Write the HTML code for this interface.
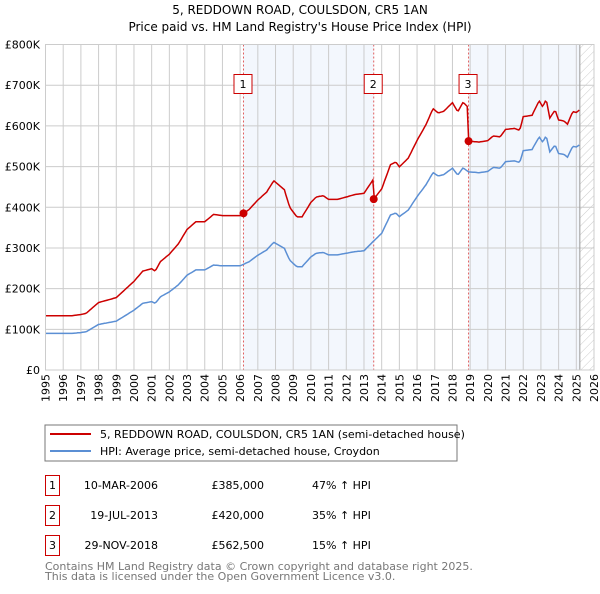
<!DOCTYPE html>
<html><head><meta charset="utf-8"><style>
body{margin:0;background:#fff;font-family:"DejaVu Sans","Liberation Sans",sans-serif;}
svg text{font-family:"DejaVu Sans","Liberation Sans",sans-serif;}
</style></head><body>
<svg id="c" width="600" height="590" xmlns="http://www.w3.org/2000/svg">
<defs><pattern id="hatch" width="6" height="6" patternUnits="userSpaceOnUse" patternTransform="rotate(45)"><line x1="0" y1="0" x2="0" y2="6" stroke="#ccc" stroke-width="1"/></pattern></defs>
<text x="300" y="14" text-anchor="middle" font-size="12">5, REDDOWN ROAD, COULSDON, CR5 1AN</text>
<text x="300" y="31" text-anchor="middle" font-size="12">Price paid vs. HM Land Registry's House Price Index (HPI)</text>
<g id="plot"></g>
<rect x="45" y="425" width="412" height="36" fill="#fff" stroke="#777"/>
<line x1="50" y1="434" x2="91" y2="434" stroke="#cc0000" stroke-width="2"/>
<text x="100" y="438" font-size="11">5, REDDOWN ROAD, COULSDON, CR5 1AN (semi-detached house)</text>
<line x1="50" y1="451" x2="91" y2="451" stroke="#5b8fd4" stroke-width="2"/>
<text x="100" y="455" font-size="11">HPI: Average price, semi-detached house, Croydon</text>
<g id="table" font-size="11"></g>
<text x="45" y="570" font-size="11" fill="#777">Contains HM Land Registry data © Crown copyright and database right 2025.</text>
<text x="45" y="580" font-size="11" fill="#777">This data is licensed under the Open Government Licence v3.0.</text>
</svg>
<script>
const hpiYears=[1995,1996.5,1997,1997.3,1998,1999,2000,2000.5,2001,2001.2,2001.5,2002,2002.5,2003,2003.5,2004,2004.5,2005,2006,2006.5,2007,2007.5,2007.9,2008.5,2008.8,2009.2,2009.5,2010,2010.3,2010.7,2011,2011.5,2012,2012.5,2013,2013.5,2014,2014.5,2014.8,2015,2015.5,2016,2016.5,2016.9,2017.2,2017.5,2018,2018.3,2018.6,2018.9,2019.5,2020,2020.3,2020.7,2021,2021.5,2021.8,2022,2022.5,2022.9,2023.1,2023.3,2023.5,2023.8,2024,2024.3,2024.5,2024.8,2025,2025.2];
const hpiValues=[90,90,92,94,112,120,147,164,168,164,180,192,209,233,246,246,258,256,256,266,282,295,314,299,270,254,254,278,287,289,283,283,287,291,293,315,336,381,386,377,393,426,455,485,477,480,496,479,497,487,485,488,498,496,512,514,510,539,542,573,560,576,536,553,532,530,523,550,548,554];
const saleLabels=["1","2","3"];
const saleYears=[2006.19,2013.55,2018.91];
const salePrices=[385,420,562.5];
const saleDates=["10-MAR-2006","19-JUL-2013","29-NOV-2018"];
const salePriceText=["£385,000","£420,000","£562,500"];
const saleHpiText=["47% ↑ HPI","35% ↑ HPI","15% ↑ HPI"];
const yTicks=[0,100,200,300,400,500,600,700,800];
const yTickLabels=["£0","£100K","£200K","£300K","£400K","£500K","£600K","£700K","£800K"];
const xTicks=[1995,1996,1997,1998,1999,2000,2001,2002,2003,2004,2005,2006,2007,2008,2009,2010,2011,2012,2013,2014,2015,2016,2017,2018,2019,2020,2021,2022,2023,2024,2025,2026];

const X0=45.5,X1=594,Y0=370,Y1=44.5;
const xs=y=>X0+(y-1995)*(X1-X0)/31;
const ys=v=>Y0-(v/800)*(Y0-Y1);
const NS="http://www.w3.org/2000/svg";
const plot=document.getElementById('plot');
function mk(tag,attrs,parent){const e=document.createElementNS(NS,tag);for(const k in attrs)e.setAttribute(k,attrs[k]);(parent||plot).appendChild(e);return e;}
function hpiAt(t){for(let i=0;i<hpiYears.length-1;i++){if(t<=hpiYears[i+1]){const f=(t-hpiYears[i])/(hpiYears[i+1]-hpiYears[i]);return hpiValues[i]+f*(hpiValues[i+1]-hpiValues[i]);}}return hpiValues[hpiValues.length-1];}
const lastYear=hpiYears[hpiYears.length-1];
for(let i=0;i<saleYears.length;i+=2){
  const end=i+1<saleYears.length?saleYears[i+1]:lastYear;
  const r=mk('rect',{x:xs(saleYears[i]),y:Y1,width:xs(end)-xs(saleYears[i]),height:Y0-Y1,fill:'#eef3fc',opacity:0.7});
  
  
}
const h=mk('rect',{x:xs(lastYear),y:Y1,width:X1-xs(lastYear),height:Y0-Y1,fill:'url(#hatch)'});


yTicks.forEach((v,i)=>{
  const l=mk('line',{x1:X0,x2:X1,y1:ys(v),y2:ys(v),stroke:'#cccccc'});
  
  
  const t=mk('text',{x:40,y:ys(v)+4,'text-anchor':'end','font-size':11});
  t.textContent=yTickLabels[i];
  
  
});
xTicks.forEach(y=>{
  const l=mk('line',{x1:xs(y),x2:xs(y),y1:Y1,y2:Y0,stroke:'#cccccc'});
  
  
  const tx=xs(y)+4,ty=374;
  const t=mk('text',{x:tx,y:ty,'text-anchor':'end','font-size':11,transform:'rotate(-90 '+tx+' '+ty+')'});
  t.textContent=y;
  
  
});
const vl=mk('line',{x1:xs(lastYear),x2:xs(lastYear),y1:Y1,y2:Y0,stroke:'#999'});


saleYears.forEach((y,i)=>{
  const l=mk('line',{x1:xs(y),x2:xs(y),y1:Y1,y2:Y0,stroke:'#e06060','stroke-dasharray':'2,2'});
  
  
  const b=mk('rect',{x:xs(y)-9.5,y:74.5,width:18,height:19,fill:'#fff',stroke:'#cc0000'});
  
  
  const t=mk('text',{x:xs(y)-0.5,y:88,'text-anchor':'middle','font-size':11});
  t.textContent=saleLabels[i];
  
  
});
let bp=[],rp=[];
for(let t=1995;t<=lastYear+1e-6;t+=1/12){
  const v=hpiAt(t);
  bp.push(xs(t).toFixed(1)+','+ys(v).toFixed(1));
  let k=0;while(k<saleYears.length-1&&t>=saleYears[k+1])k++;
  const ratio=salePrices[k]/hpiAt(saleYears[k]);
  rp.push(xs(t).toFixed(1)+','+ys(v*ratio).toFixed(1));
}
const b=mk('polyline',{points:bp.join(' '),fill:'none',stroke:'#5b8fd4','stroke-width':1.5});


const r=mk('polyline',{points:rp.join(' '),fill:'none',stroke:'#cc0000','stroke-width':1.5});


saleYears.forEach((y,i)=>{
  const c=mk('circle',{cx:xs(y),cy:ys(salePrices[i]),r:4,fill:'#cc0000'});
  
  
});
const fr=mk('rect',{x:X0,y:Y1,width:X1-X0,height:Y0-Y1,fill:'none',stroke:'#cccccc'});


const tb=document.getElementById('table');
saleDates.forEach((d,i)=>{
  const y=475+i*30;
  const bx=mk('rect',{x:45.5,y:y+0.5,width:14,height:20,fill:'#fff',stroke:'#cc0000'},tb);
  
  
  const n=mk('text',{x:52.5,y:y+14,'text-anchor':'middle'},tb);n.textContent=saleLabels[i];
  
  
  const dt=mk('text',{x:158,y:y+14,'text-anchor':'end'},tb);dt.textContent=d;
  
  
  const p=mk('text',{x:264,y:y+14,'text-anchor':'end'},tb);p.textContent=salePriceText[i];
  
  
  const hp=mk('text',{x:312,y:y+14},tb);hp.textContent=saleHpiText[i];
  
  
});
</script>
</body></html>
